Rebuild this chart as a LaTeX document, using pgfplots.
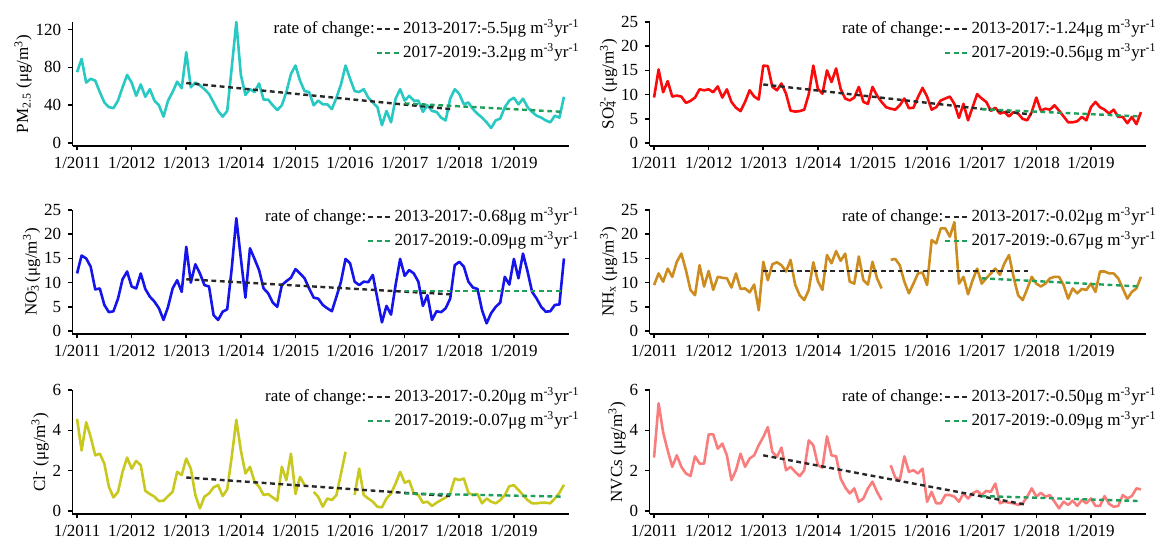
\documentclass[border=0pt]{standalone}
\usepackage{pgfplots}
\pgfplotsset{compat=1.18}
\usepackage{fontspec}
\setmainfont{Liberation Serif}
\definecolor{cPM}{RGB}{40,200,195}
\definecolor{cSO}{RGB}{250,10,10}
\definecolor{cNO}{RGB}{20,20,235}
\definecolor{cNH}{RGB}{205,140,30}
\definecolor{cCl}{RGB}{200,200,30}
\definecolor{cNV}{RGB}{250,125,125}
\definecolor{tBlack}{RGB}{40,40,40}
\definecolor{tGreen}{RGB}{30,160,90}
\newcommand{\fs}{\fontsize{8.5}{10}\selectfont}
\pgfplotsset{
  panel/.style={
    scale only axis, width=248pt, height=62pt,
    xmin=-1, xmax=108,
    axis x line*=bottom, axis y line*=left,
    axis line style={-, line width=0.8pt, black},
    xtick={0,12,24,36,48,60,72,84,96},
    xticklabels={1/2011,1/2012,1/2013,1/2014,1/2015,1/2016,1/2017,1/2018,1/2019},
    tick align=outside, major tick length=2.2pt,
    every tick/.style={black, line width=0.8pt},
    tick label style={font=\fs, text=black},
    label style={font=\fs},
    ylabel shift=-5pt,
    /pgf/number format/assume math mode=true,
    unbounded coords=jump,
    legend columns=2,
    legend style={draw=none, fill=none, at={(rel axis cs:1.025,1)}, anchor=north east, yshift=1.5pt, font=\fs, inner sep=0pt, row sep=2.5pt, nodes={inner sep=0.5pt, text height=6.5pt, text depth=2pt}},
    legend cell align=left,
    legend image code/.code={\draw[#1] (0pt,0pt) -- (12pt,0pt);},
  },
  data/.style={line width=1.3pt, line join=round},
  tb/.style={tBlack, line width=1.2pt, dash pattern=on 2.4pt off 1.8pt},
  tg/.style={tGreen, line width=1.2pt, dash pattern=on 2.4pt off 1.8pt},
}
\begin{document}
\begin{tikzpicture}
\useasboundingbox (0,0) rectangle (582.5pt,269.5pt);
% ---------- PM2.5
\begin{axis}[panel, at={(36.25pt,196.5pt)}, anchor=south west,
  ymin=-3, ymax=128, ytick={0,40,80,120},
  ylabel={PM\textsubscript{2.5} (μg/m\textsuperscript{3})}]
\addplot[data, cPM, forget plot] coordinates {
(0,75)(1,89)(2,64)(3,68)(4,66)(5,54)(6,43)(7,38)(8,37)(9,45)(10,59)(11,72)
(12,64)(13,50)(14,62)(15,49)(16,57)(17,45)(18,40)(19,28)(20,45)(21,54)(22,65)(23,58)
(24,96)(25,59)(26,64)(27,61)(28,57)(29,52)(30,43)(31,34)(32,28)(33,34)(34,80)(35,128)
(36,72)(37,51)(38,57)(39,54)(40,63)(41,46)(42,46)(43,40)(44,35)(45,40)(46,54)(47,73)
(48,82)(49,66)(50,55)(51,54)(52,40)(53,45)(54,41)(55,41)(56,36)(57,48)(58,62)(59,82)
(60,68)(61,55)(62,54)(63,57)(64,48)(65,43)(66,38)(67,19)(68,34)(69,22)(70,47)(71,57)
(72,45)(73,50)(74,45)(75,45)(76,33)(77,40)(78,34)(79,33)(80,27)(81,24)(82,47)(83,57)
(84,52)(85,41)(86,43)(87,36)(88,31)(89,27)(90,22)(91,16)(92,24)(93,26)(94,38)(95,45)
(96,48)(97,41)(98,47)(99,38)(100,33)(101,29)(102,27)(103,24)(104,22)(105,29)(106,27)(107,49)};
\addlegendimage{empty legend}\addlegendentry{rate of change:}
\addplot[tb] coordinates {(24,63.5)(82,36)};
\addlegendentry{2013-2017:-5.5μg m\textsuperscript{-3}yr\textsuperscript{-1}}
\addlegendimage{empty legend}\addlegendentry{}
\addplot[tg] coordinates {(72,42)(107,33)};
\addlegendentry{2017-2019:-3.2μg m\textsuperscript{-3}yr\textsuperscript{-1}}
\end{axis}
% ---------- SO4
\begin{axis}[panel, at={(324.75pt,196.5pt)}, anchor=south west,
  ymin=-0.6, ymax=25, ytick={0,5,10,15,20,25},
  ylabel={SO\rlap{\textsubscript{4}}\textsuperscript{2-} (μg/m\textsuperscript{3})}]
\addplot[data, cSO, forget plot] coordinates {
(0,9.4)(1,15.2)(2,10.5)(3,12.8)(4,9.6)(5,9.8)(6,9.6)(7,8.3)(8,8.7)(9,9.4)(10,11.1)(11,10.9)
(12,11.1)(13,10.5)(14,11.7)(15,9.4)(16,11.1)(17,8.5)(18,7.3)(19,6.6)(20,8.5)(21,10.9)(22,9.6)(23,9.0)
(24,16.0)(25,15.9)(26,11.6)(27,10.9)(28,12.3)(29,10.2)(30,6.7)(31,6.5)(32,6.6)(33,6.9)(34,10.1)(35,16.0)
(36,11.2)(37,10.2)(38,15.0)(39,12.6)(40,15.4)(41,11.2)(42,9.2)(43,8.8)(44,9.4)(45,11.6)(46,8.5)(47,8.1)
(48,11.6)(49,9.8)(50,8.5)(51,7.4)(52,7.1)(53,6.9)(54,7.8)(55,9.2)(56,7.2)(57,7.3)(58,9.5)(59,11.4)
(60,9.6)(61,6.9)(62,7.4)(63,8.8)(64,9.2)(65,9.6)(66,8.1)(67,5.2)(68,8.1)(69,4.7)(70,7.4)(71,10.1)
(72,9.2)(73,8.5)(74,6.7)(75,7.3)(76,6.1)(77,6.4)(78,5.5)(79,6.4)(80,6.1)(81,5.0)(82,4.7)(83,6.4)
(84,9.4)(85,6.7)(86,7.1)(87,6.9)(88,7.8)(89,6.7)(90,5.5)(91,4.3)(92,4.3)(93,4.5)(94,5.4)(95,4.7)
(96,7.4)(97,8.5)(98,7.4)(99,6.9)(100,6.1)(101,6.9)(102,5.4)(103,5.4)(104,4.1)(105,5.4)(106,3.9)(107,6.4)};
\addlegendimage{empty legend}\addlegendentry{rate of change:}
\addplot[tb] coordinates {(24,12.1)(83,5.9)};
\addlegendentry{2013-2017:-1.24μg m\textsuperscript{-3}yr\textsuperscript{-1}}
\addlegendimage{empty legend}\addlegendentry{}
\addplot[tg] coordinates {(72,7.0)(107,5.5)};
\addlegendentry{2017-2019:-0.56μg m\textsuperscript{-3}yr\textsuperscript{-1}}
\end{axis}
% ---------- NO3
\begin{axis}[panel, at={(36.25pt,102.5pt)}, anchor=south west,
  ymin=-0.6, ymax=25, ytick={0,5,10,15,20,25},
  ylabel={NO\rlap{\textsubscript{3}}\textsuperscript{-} (μg/m\textsuperscript{3})}]
\addplot[data, cNO, forget plot] coordinates {
(0,11.9)(1,15.6)(2,15.0)(3,13.3)(4,8.6)(5,8.8)(6,5.4)(7,3.9)(8,4.1)(9,6.7)(10,10.7)(11,12.3)
(12,9.2)(13,8.8)(14,11.9)(15,8.7)(16,7.1)(17,6.1)(18,4.7)(19,2.3)(20,5.0)(21,8.8)(22,10.5)(23,8.1)
(24,17.4)(25,10.0)(26,13.8)(27,11.9)(28,9.5)(29,9.2)(30,3.3)(31,2.3)(32,4.0)(33,4.5)(34,13.0)(35,23.3)
(36,15.0)(37,6.9)(38,17.1)(39,14.9)(40,12.6)(41,8.8)(42,7.8)(43,5.9)(44,5.0)(45,9.5)(46,10.3)(47,11.0)
(48,12.8)(49,11.9)(50,10.9)(51,8.8)(52,6.9)(53,6.7)(54,5.4)(55,4.7)(56,4.1)(57,7.1)(58,10.2)(59,14.9)
(60,14.0)(61,10.2)(62,9.5)(63,10.2)(64,10.1)(65,11.6)(66,6.7)(67,1.8)(68,5.2)(69,3.4)(70,9.5)(71,14.9)
(72,11.4)(73,12.6)(74,11.9)(75,10.2)(76,5.2)(77,7.4)(78,2.3)(79,4.1)(80,3.9)(81,4.7)(82,6.7)(83,13.6)
(84,14.3)(85,13.3)(86,10.2)(87,9.0)(88,8.7)(89,4.3)(90,1.6)(91,3.7)(92,5.0)(93,5.9)(94,11.2)(95,9.6)
(96,14.9)(97,10.9)(98,16.0)(99,12.3)(100,8.1)(101,6.7)(102,5.0)(103,4.0)(104,4.1)(105,5.4)(106,5.5)(107,15.0)};
\addlegendimage{empty legend}\addlegendentry{rate of change:}
\addplot[tb] coordinates {(24,10.7)(82,7.6)};
\addlegendentry{2013-2017:-0.68μg m\textsuperscript{-3}yr\textsuperscript{-1}}
\addlegendimage{empty legend}\addlegendentry{}
\addplot[tg] coordinates {(72,8.3)(107,8.3)};
\addlegendentry{2017-2019:-0.09μg m\textsuperscript{-3}yr\textsuperscript{-1}}
\end{axis}
% ---------- NHx
\begin{axis}[panel, at={(324.75pt,102.5pt)}, anchor=south west,
  ymin=-0.6, ymax=25, ytick={0,5,10,15,20,25},
  ylabel={NH\textsubscript{x} (μg/m\textsuperscript{3})}]
\addplot[data, cNH, forget plot] coordinates {
(0,9.5)(1,11.9)(2,10.2)(3,12.9)(4,11.2)(5,14.3)(6,16.0)(7,12.6)(8,8.5)(9,7.4)(10,13.6)(11,9.2)
(12,12.4)(13,8.5)(14,11.2)(15,11.0)(16,10.9)(17,9.0)(18,11.9)(19,8.7)(20,8.8)(21,8.0)(22,9.6)(23,4.3)
(24,14.3)(25,10.5)(26,13.8)(27,14.2)(28,13.6)(29,12.3)(30,14.7)(31,9.6)(32,7.4)(33,6.4)(34,8.5)(35,14.2)
(36,10.3)(37,8.5)(38,15.7)(39,14.0)(40,16.5)(41,14.5)(42,16.0)(43,10.2)(44,9.8)(45,15.4)(46,10.5)(47,9.6)
(48,14.3)(49,10.9)(50,8.8)(51,nan)(52,14.7)(53,14.9)(54,13.6)(55,10.2)(56,7.8)(57,9.8)(58,11.9)(59,12.1)
(60,9.5)(61,18.8)(62,18.1)(63,21.2)(64,21.2)(65,19.5)(66,22.5)(67,9.8)(68,11.2)(69,7.6)(70,10.5)(71,12.9)
(72,9.8)(73,10.9)(74,11.9)(75,12.9)(76,11.6)(77,14.0)(78,15.7)(79,11.2)(80,7.4)(81,6.4)(82,8.7)(83,11.2)
(84,9.8)(85,9.2)(86,9.8)(87,10.9)(88,11.2)(89,11.2)(90,9.5)(91,6.7)(92,8.8)(93,7.8)(94,8.7)(95,8.5)
(96,9.8)(97,8.1)(98,12.3)(99,12.3)(100,11.9)(101,11.9)(102,10.9)(103,8.8)(104,6.7)(105,8.1)(106,8.8)(107,11.2)};
\addlegendimage{empty legend}\addlegendentry{rate of change:}
\addplot[tb] coordinates {(24,12.4)(83,12.4)};
\addlegendentry{2013-2017:-0.02μg m\textsuperscript{-3}yr\textsuperscript{-1}}
\addlegendimage{empty legend}\addlegendentry{}
\addplot[tg] coordinates {(72,10.9)(107,9.2)};
\addlegendentry{2017-2019:-0.67μg m\textsuperscript{-3}yr\textsuperscript{-1}}
\end{axis}
% ---------- Cl
\begin{axis}[panel, at={(36.25pt,12.5pt)}, anchor=south west,
  ymin=-0.15, ymax=6, ytick={0,2,4,6},
  ylabel={Cl\textsuperscript{-} (μg/m\textsuperscript{3})}]
\addplot[data, cCl, forget plot] coordinates {
(0,4.57)(1,3.0)(2,4.4)(3,3.67)(4,2.76)(5,2.84)(6,2.35)(7,1.2)(8,0.67)(9,0.95)(10,1.94)(11,2.65)
(12,2.1)(13,2.48)(14,2.27)(15,1.0)(16,0.84)(17,0.71)(18,0.49)(19,0.51)(20,0.74)(21,0.95)(22,1.94)(23,1.78)
(24,2.6)(25,2.1)(26,0.79)(27,0.13)(28,0.71)(29,0.87)(30,1.17)(31,1.28)(32,0.74)(33,1.07)(34,2.7)(35,4.52)
(36,3.0)(37,1.86)(38,2.19)(39,1.45)(40,1.2)(41,0.79)(42,0.84)(43,0.67)(44,0.51)(45,2.19)(46,1.53)(47,2.84)
(48,0.84)(49,1.69)(50,1.28)(51,nan)(52,0.95)(53,0.7)(54,0.21)(55,0.62)(56,0.54)(57,0.79)(58,1.85)(59,2.93)
(60,nan)(61,0.79)(62,2.1)(63,0.79)(64,0.62)(65,0.46)(66,0.21)(67,0.18)(68,0.62)(69,0.87)(70,1.36)(71,1.94)
(72,1.4)(73,1.5)(74,0.87)(75,0.79)(76,0.41)(77,0.46)(78,0.25)(79,0.41)(80,0.54)(81,0.67)(82,0.87)(83,1.61)
(84,1.53)(85,1.61)(86,0.9)(87,0.79)(88,0.84)(89,0.38)(90,0.62)(91,0.46)(92,0.38)(93,0.54)(94,0.79)(95,1.23)
(96,1.28)(97,1.04)(98,0.79)(99,0.54)(100,0.38)(101,0.38)(102,0.41)(103,0.41)(104,0.38)(105,0.62)(106,0.9)(107,1.3)};
\addlegendimage{empty legend}\addlegendentry{rate of change:}
\addplot[tb] coordinates {(24,1.66)(82,0.74)};
\addlegendentry{2013-2017:-0.20μg m\textsuperscript{-3}yr\textsuperscript{-1}}
\addlegendimage{empty legend}\addlegendentry{}
\addplot[tg] coordinates {(72,0.87)(107,0.71)};
\addlegendentry{2017-2019:-0.07μg m\textsuperscript{-3}yr\textsuperscript{-1}}
\end{axis}
% ---------- NVCs
\begin{axis}[panel, at={(324.75pt,12.5pt)}, anchor=south west,
  ymin=-0.15, ymax=6, ytick={0,2,4,6},
  ylabel={NVCs (μg/m\textsuperscript{3})}]
\addplot[data, cNV, forget plot] coordinates {
(0,2.65)(1,5.34)(2,3.9)(3,3.0)(4,2.19)(5,2.76)(6,2.19)(7,1.86)(8,1.73)(9,2.71)(10,2.35)(11,2.35)
(12,3.8)(13,3.8)(14,3.09)(15,3.34)(16,2.76)(17,1.53)(18,2.02)(19,2.84)(20,2.19)(21,2.6)(22,2.76)(23,3.26)
(24,3.67)(25,4.16)(26,2.93)(27,2.68)(28,3.14)(29,2.02)(30,2.19)(31,1.94)(32,1.73)(33,2.02)(34,3.5)(35,3.26)
(36,2.27)(37,2.15)(38,3.7)(39,2.76)(40,2.71)(41,1.61)(42,1.17)(43,0.87)(44,1.12)(45,0.46)(46,0.62)(47,1.12)
(48,1.45)(49,0.95)(50,0.54)(51,nan)(52,2.27)(53,1.66)(54,1.53)(55,2.71)(56,1.94)(57,2.02)(58,1.86)(59,2.1)
(60,0.46)(61,0.95)(62,0.38)(63,0.38)(64,0.79)(65,0.79)(66,0.71)(67,0.46)(68,0.87)(69,0.62)(70,0.87)(71,1.0)
(72,0.79)(73,1.0)(74,0.95)(75,1.36)(76,0.38)(77,0.46)(78,0.41)(79,0.38)(80,0.3)(81,0.38)(82,0.71)(83,1.12)
(84,0.71)(85,0.9)(86,0.71)(87,0.79)(88,0.46)(89,0.13)(90,0.46)(91,0.3)(92,0.51)(93,0.25)(94,0.54)(95,0.38)
(96,0.62)(97,0.25)(98,0.25)(99,0.74)(100,0.35)(101,0.21)(102,0.25)(103,0.79)(104,0.62)(105,0.74)(106,1.12)(107,1.07)};
\addlegendimage{empty legend}\addlegendentry{rate of change:}
\addplot[tb] coordinates {(24,2.76)(82,0.30)};
\addlegendentry{2013-2017:-0.50μg m\textsuperscript{-3}yr\textsuperscript{-1}}
\addlegendimage{empty legend}\addlegendentry{}
\addplot[tg] coordinates {(72,0.74)(107,0.49)};
\addlegendentry{2017-2019:-0.09μg m\textsuperscript{-3}yr\textsuperscript{-1}}
\end{axis}
\end{tikzpicture}
\end{document}
